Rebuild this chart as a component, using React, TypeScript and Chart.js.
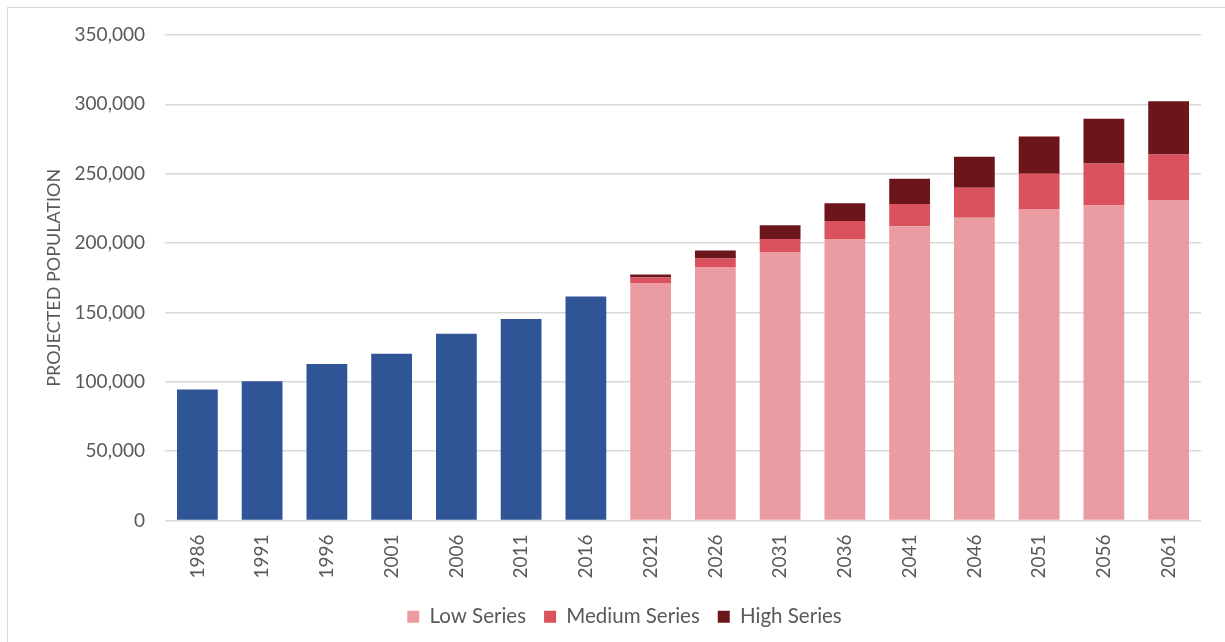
import React, { useEffect, useRef } from "react";
import { Chart, registerables } from "chart.js";

Chart.register(...registerables);

// Census years and projection years along the x axis
const years = [
  "1986", "1991", "1996", "2001", "2006", "2011", "2016",
  "2021", "2026", "2031", "2036", "2041", "2046", "2051", "2056", "2061",
];

// Recorded population (census years)
const historical = [94500, 100300, 112800, 120300, 134700, 145300, 161400];

// Projection scenario segments, stacked: low, extra for medium, extra for high
const lowSeries = [171200, 182800, 193600, 203000, 212200, 218200, 224600, 227100, 230700];
const mediumSeries = [3900, 6000, 9400, 13000, 16000, 21600, 25300, 30300, 33200];
const highSeries = [2200, 5800, 9900, 12700, 18100, 22400, 27000, 32200, 38400];

const yTicks = [0, 50000, 100000, 150000, 200000, 250000, 300000, 350000];

const histCount = historical.length;
const pad = (vals: number[], before: number, after: number) => [
  ...Array(before).fill(null),
  ...vals,
  ...Array(after).fill(null),
];

const FONT = "Lato, 'Open Sans', sans-serif";
const TEXT = "#595959";

export default function App() {
  const canvasRef = useRef<HTMLCanvasElement | null>(null);

  useEffect(() => {
    if (!canvasRef.current) return;
    const projCount = lowSeries.length;
    const chart = new Chart(canvasRef.current, {
      type: "bar",
      data: {
        labels: years,
        datasets: [
          {
            label: "Historical",
            data: pad(historical, 0, projCount),
            backgroundColor: "#2F5597",
          },
          {
            label: "Low Series",
            data: pad(lowSeries, histCount, 0),
            backgroundColor: "#EA9CA2",
          },
          {
            label: "Medium Series",
            data: pad(mediumSeries, histCount, 0),
            backgroundColor: "#DA525D",
          },
          {
            label: "High Series",
            data: pad(highSeries, histCount, 0),
            backgroundColor: "#6C151B",
          },
        ],
      },
      options: {
        animation: false,
        responsive: false,
        maintainAspectRatio: false,
        datasets: {
          bar: { barPercentage: 0.63, categoryPercentage: 1, stack: "pop" },
        },
        layout: { padding: { top: 35, right: 24, left: 48, bottom: 5 } },
        plugins: {
          tooltip: { enabled: false },
          legend: {
            position: "bottom",
            labels: {
              filter: (item) => item.text !== "Historical",
              boxWidth: 12,
              boxHeight: 12,
              color: TEXT,
              font: { family: FONT, size: 20.5 },
              padding: 18,
            },
          },
        },
        scales: {
          x: {
            stacked: true,
            grid: { display: false, drawTicks: false },
            border: { display: false },
            ticks: {
              color: TEXT,
              font: { family: FONT, size: 19 },
              minRotation: 90,
              maxRotation: 90,
              padding: 14,
            },
            afterFit: (scale: any) => {
              scale.height = 68;
            },
          },
          y: {
            stacked: true,
            min: 0,
            max: 350000,
            afterBuildTicks: (scale: any) => {
              scale.ticks = yTicks.map((v) => ({ value: v }));
            },
            grid: { color: "#D9D9D9", lineWidth: 1.5, drawTicks: false },
            border: { display: false },
            ticks: {
              color: TEXT,
              font: { family: FONT, size: 19 },
              padding: 20,
              callback: (v) => Number(v).toLocaleString("en-US"),
            },
            title: {
              display: true,
              text: "PROJECTED POPULATION",
              color: TEXT,
              font: { family: FONT, size: 18 },
              padding: { top: -5, bottom: 0 },
            },
            afterFit: (scale: any) => {
              scale.width = 117;
            },
          },
        },
      },
    });
    return () => chart.destroy();
  }, []);

  return (
    <div
      style={{
        position: "absolute",
        left: 0,
        top: 0,
        width: 1225,
        height: 642,
        background: "#fff",
        overflow: "hidden",
      }}
    >
      <div
        style={{
          position: "absolute",
          left: 7,
          top: 7,
          width: 1240,
          height: 660,
          borderLeft: "1.5px solid #D9D9D9",
          borderTop: "1.5px solid #D9D9D9",
        }}
      />
      <canvas
        ref={canvasRef}
        width={1225}
        height={642}
        style={{ position: "absolute", left: 0, top: 0 }}
      />
    </div>
  );
}
